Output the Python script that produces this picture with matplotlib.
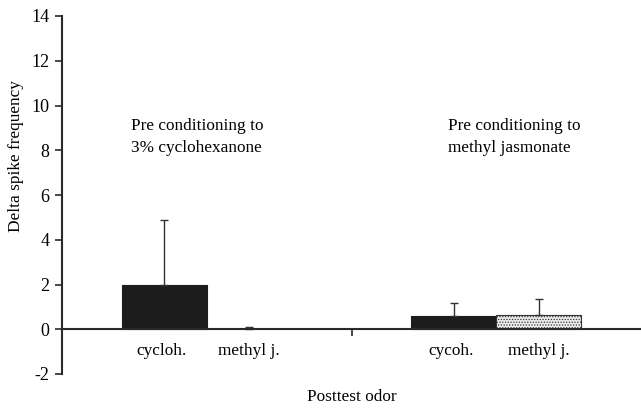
import matplotlib
matplotlib.use("Agg")
import matplotlib.pyplot as plt
import numpy as np

plt.rcParams['font.family'] = ['Liberation Serif', 'DejaVu Serif']
plt.rcParams['hatch.color'] = '#7a7a7a'
plt.rcParams['hatch.linewidth'] = 0.6

# Data
groups = ["Pre conditioning to\n3% cyclohexanone", "Pre conditioning to\nmethyl jasmonate"]
bar_labels = [["cycloh.", "methyl j."], ["cycoh.", "methyl j."]]
cyclo_means = [2.0, 0.6]
cyclo_err = [2.9, 0.58]
mj_means = [0.02, 0.65]
mj_err = [0.1, 0.68]
yticks = [-2, 0, 2, 4, 6, 8, 10, 12, 14]

fs = 12.4

fig = plt.figure(figsize=(6.41, 4.08), dpi=100)
ax = fig.add_axes([62 / 641, 1 - 374 / 408, 1 - 62 / 641, (374 - 16) / 408])

centers = np.array([0.5, 1.5])
w = 0.2936
ink = '#1c1c1c'

ax.bar(centers - w / 2, cyclo_means, width=w, color=ink, edgecolor=ink, lw=0.8, zorder=2)
ax.bar(centers + w / 2, mj_means, width=w, color=['white', '#ececec'],
       edgecolor=['white', '#333333'], lw=0.8, hatch='......', zorder=2)

ax.errorbar(centers - w / 2, cyclo_means, yerr=[np.zeros(2), cyclo_err], fmt='none',
            ecolor='#333333', elinewidth=1.0, capsize=3, capthick=1.0, zorder=3)
ax.errorbar(centers + w / 2, mj_means, yerr=[np.zeros(2), mj_err], fmt='none',
            ecolor='#333333', elinewidth=1.0, capsize=3, capthick=1.0, zorder=3)

ax.set_xlim(0, 2)
ax.set_ylim(-2, 14)
ax.set_yticks(yticks)
ax.set_yticklabels([str(t) for t in yticks], fontsize=13)

ax.spines['top'].set_visible(False)
ax.spines['right'].set_visible(False)
ax.spines['bottom'].set_position(('data', 0))
for s in ('left', 'bottom'):
    ax.spines[s].set_color('#2a2a2a')
    ax.spines[s].set_linewidth(1.5)
ax.spines['bottom'].set_zorder(4)

ax.set_xticks([0, 1])
ax.set_xticklabels([])
ax.tick_params(axis='x', direction='out', length=5, width=1.2, color='#2a2a2a')
ax.tick_params(axis='y', direction='out', length=5, width=1.2, color='#2a2a2a', pad=4)

for i, c in enumerate(centers):
    ax.text(c - w / 2 - 0.01, -0.95, bar_labels[i][0], ha='center', va='center', fontsize=fs)
    ax.text(c + w / 2, -0.95, bar_labels[i][1], ha='center', va='center', fontsize=fs)

ax.text(0.238, 9.45, groups[0], ha='left', va='top', fontsize=fs, linespacing=1.55)
ax.text(1.332, 9.45, groups[1], ha='left', va='top', fontsize=fs, linespacing=1.55)

ax.set_ylabel("Delta spike frequency", fontsize=fs)
ax.yaxis.set_label_coords(-0.066, 0.609)
fig.text(352 / 641, 1 - 397 / 408, "Posttest odor", ha='center', va='center', fontsize=fs)

fig.savefig("out.png", dpi=100)
